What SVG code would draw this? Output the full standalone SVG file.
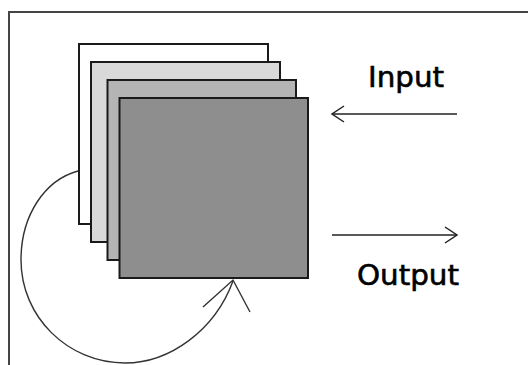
<svg xmlns="http://www.w3.org/2000/svg" width="528" height="365" viewBox="0 0 528 365">
<style>
.frame{fill:none;stroke:#444;stroke-width:2}
.card{stroke:#1a1a1a;stroke-width:2}
.conn{fill:none;stroke:#222;stroke-width:1.5}
.loop{fill:none;stroke:#333;stroke-width:1.4}
.lbl{font-family:"DejaVu Sans",Verdana,sans-serif;font-size:28px;fill:#000;stroke:#000;stroke-width:0.6}
</style>
<defs>
<marker id="chev" markerUnits="userSpaceOnUse" markerWidth="20" markerHeight="20" viewBox="-14 -10 16 20" refX="0" refY="0" orient="auto">
<path d="M-12,-8 L0,0 L-12,8" fill="none" stroke="#222" stroke-width="1.5"/>
</marker>
</defs>
<rect width="528" height="365" fill="#fff"/>
<polyline class="frame" points="9,365 9,12 528,12"/>
<g id="layer1"><rect class="card" x="79" y="44" width="189" height="180" fill="#ffffff"/></g>
<g id="layer2"><rect class="card" x="91" y="62" width="189" height="180" fill="#d9d9d9"/></g>
<g id="layer3"><rect class="card" x="107.5" y="80" width="188.5" height="180" fill="#b4b4b4"/></g>
<g id="layer4"><rect class="card" x="119.5" y="98" width="188.5" height="180" fill="#8e8e8e"/></g>
<g id="connectors">
<line class="conn" x1="457" y1="114" x2="332" y2="114" marker-end="url(#chev)"/>
<line class="conn" x1="332" y1="235" x2="457" y2="235" marker-end="url(#chev)"/>
<path class="loop" d="M78,171 C45,180 21,215 21,260 C21,317 68,363 125,363 C170,363 215,330 233,281"/>
<polyline class="loop" points="203,307 233,280 250,312"/>
</g>
<g id="labels">
<text class="lbl" x="368" y="87" textLength="76" lengthAdjust="spacingAndGlyphs">Input</text>
<text class="lbl" x="357" y="285" textLength="102" lengthAdjust="spacingAndGlyphs">Output</text>
</g>
</svg>
